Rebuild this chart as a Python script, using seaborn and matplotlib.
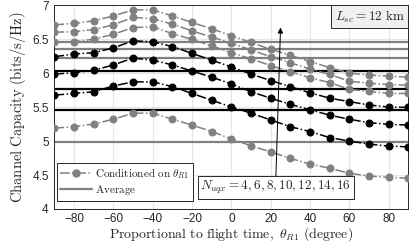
import pandas as pd
import matplotlib
matplotlib.use('Agg')
from matplotlib import pyplot as plt
import seaborn as sns


theta = [-90, -80, -70, -60, -50, -40, -30, -20, -10, 0,
         10, 20, 30, 40, 50, 60, 70, 80, 90]
n_uqx = [4, 6, 8, 10, 12, 14, 16]

cap_n4 = [5.19, 5.21, 5.25, 5.32, 5.41, 5.41, 5.32, 5.235, 5.14, 5.03,
          4.93, 4.84, 4.745, 4.66, 4.60, 4.525, 4.485, 4.465, 4.455]
cap_n6 = [5.675, 5.70, 5.725, 5.81, 5.87, 5.87, 5.80, 5.70, 5.60, 5.50,
          5.41, 5.31, 5.21, 5.14, 5.05, 5.0, 4.955, 4.925, 4.915]
cap_n8 = [5.985, 6.005, 6.04, 6.12, 6.22, 6.19, 6.12, 6.03, 5.94, 5.84,
          5.725, 5.63, 5.54, 5.46, 5.38, 5.32, 5.27, 5.245, 5.235]
cap_n10 = [6.24, 6.28, 6.30, 6.37, 6.475, 6.46, 6.39, 6.29, 6.19, 6.09,
           5.985, 5.89, 5.80, 5.71, 5.63, 5.58, 5.53, 5.50, 5.495]
cap_n12 = [6.45, 6.46, 6.50, 6.57, 6.67, 6.68, 6.58, 6.495, 6.40, 6.30,
           6.21, 6.11, 6.02, 5.93, 5.86, 5.76, 5.73, 5.70, 5.70]
cap_n14 = [6.60, 6.61, 6.64, 6.71, 6.82, 6.80, 6.72, 6.62, 6.53, 6.44,
           6.34, 6.24, 6.15, 6.06, 5.98, 5.88, 5.85, 5.83, 5.82]
cap_n16 = [6.71, 6.73, 6.77, 6.84, 6.93, 6.93, 6.84, 6.745, 6.65, 6.55,
           6.45, 6.35, 6.26, 6.17, 6.08, 6.0, 5.97, 5.955, 5.94]
cap_avg = [4.985, 5.455, 5.76, 6.03, 6.22, 6.36, 6.455]

curves = [cap_n4, cap_n6, cap_n8, cap_n10, cap_n12, cap_n14, cap_n16]
grey = '#808080'
colors = [grey, 'k', 'k', 'k', grey, grey, grey]

rows = []
for n, cap in zip(n_uqx, curves):
    for t, c in zip(theta, cap):
        rows.append({'theta': t, 'capacity': c, 'N': n})
df = pd.DataFrame(rows)

sns.set_style('white')
plt.rcParams['mathtext.fontset'] = 'cm'
plt.rcParams['font.family'] = ['Liberation Sans', 'DejaVu Sans']

fig = plt.figure(figsize=(4.15, 2.43), dpi=100)
ax = fig.add_axes([0.131, 0.140, 0.853, 0.839])

# average lines first, curves on top
for n, a, col in zip(n_uqx, cap_avg, colors):
    ax.axhline(a, color=col, lw=1.6, zorder=2)

for n, col in zip(n_uqx, colors):
    sub = df[df['N'] == n]
    sns.lineplot(data=sub, x='theta', y='capacity', ax=ax, color=col,
                 linestyle='-.', lw=1.1, marker='o', markersize=5,
                 markeredgecolor=col, markerfacecolor=col, zorder=3)

ax.set_xlim(-90, 90)
ax.set_ylim(4, 7)
ax.set_xticks(range(-80, 81, 20))
ax.set_yticks([4, 4.5, 5, 5.5, 6, 6.5, 7])
ax.set_yticklabels(['4', '4.5', '5', '5.5', '6', '6.5', '7'])
ax.grid(True, color='#e6e6e6', lw=0.8, zorder=0)
ax.tick_params(direction='in', length=3, width=0.6, labelsize=8.5,
               colors='#262626')
ax.tick_params(axis='x', pad=3)
ax.tick_params(axis='y', pad=4)
for s in ax.spines.values():
    s.set_color('#262626')
    s.set_linewidth(0.7)

ax.set_xlabel(r'$\mathrm{Proportional\ to\ flight\ time,}\ \theta_{R1}\ \mathrm{(degree)}$',
              fontsize=10, labelpad=0)
ax.set_ylabel(r'$\mathrm{Channel\ Capacity\ (bits/s/Hz)}$', fontsize=10.5, labelpad=3)

h1, = ax.plot([], [], color=grey, linestyle='-.', lw=1.1, marker='o',
              markersize=5, markeredgecolor=grey)
h2, = ax.plot([], [], color=grey, lw=1.6)
leg = ax.legend([h1, h2], [r'$\mathrm{Conditioned\ on}\ \theta_{R1}$', r'$\mathrm{Average}$'],
                loc='lower left', bbox_to_anchor=(0.0, 0.03), fontsize=8,
                handlelength=2.9, handletextpad=0.3, labelspacing=0.2,
                borderpad=0.3, fancybox=False, framealpha=1, borderaxespad=0.2)
leg.get_frame().set_edgecolor('#262626')
leg.get_frame().set_linewidth(0.7)

ax.annotate('', xy=(25, 6.67), xytext=(22.6, 4.44),
            arrowprops=dict(arrowstyle='-|>', color='k', lw=0.7,
                            mutation_scale=8, shrinkA=0, shrinkB=0), zorder=5)
ax.text(22.5, 4.315, r'$N_{uqx} = 4, 6, 8, 10, 12, 14, 16$', fontsize=9.5,
        ha='center', va='center', zorder=6,
        bbox=dict(boxstyle='square,pad=0.2', fc='white', ec='#262626', lw=0.7))
ax.text(70.3, 6.83, r'$L_{sc} = 12\ \mathrm{km}$', fontsize=9.5,
        ha='center', va='center', zorder=6,
        bbox=dict(boxstyle='square,pad=0.25', fc='#f0f0f0', ec='#262626', lw=0.7))

fig.savefig('out.png', dpi=100)
